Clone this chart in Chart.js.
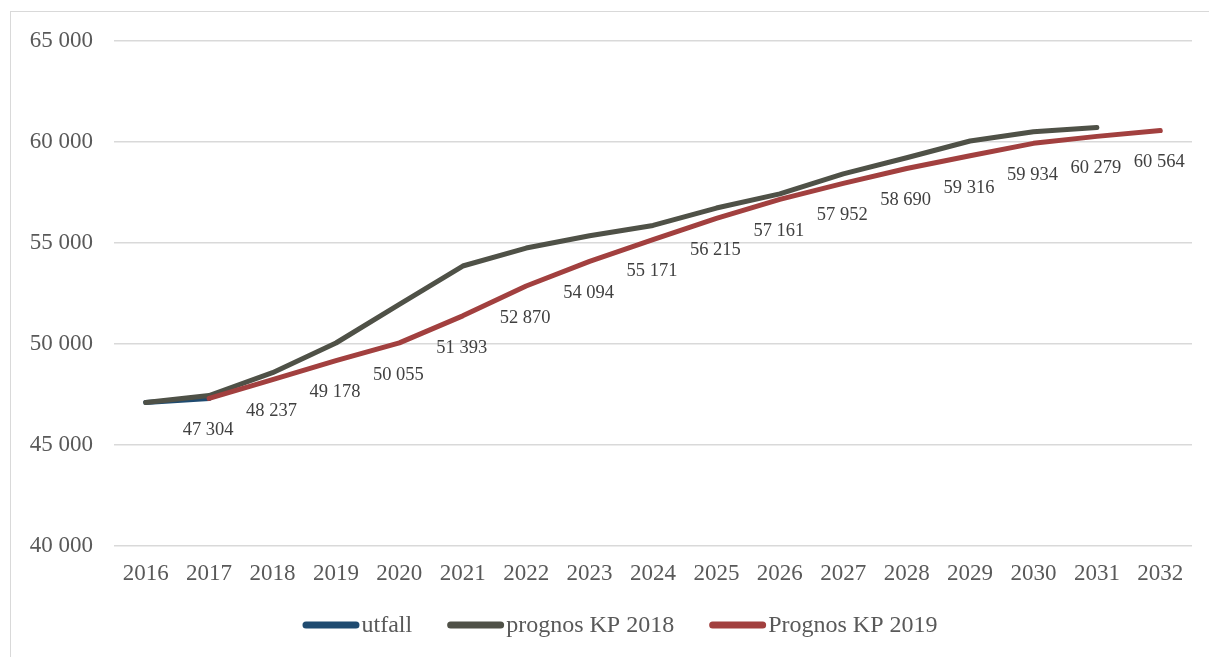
<!DOCTYPE html>
<html>
<head>
<meta charset="utf-8">
<script src="https://cdn.jsdelivr.net/npm/chart.js@4"></script>
<style>
  html, body { margin: 0; padding: 0; background: #fff; overflow: hidden; }
  #wrap { position: relative; width: 1209px; height: 657px; }
  #frame { position: absolute; left: 10px; top: 11px; width: 1220px; height: 680px; border: 1px solid #d9d9d9; box-sizing: border-box; }
  canvas { position: absolute; left: 0; top: 0; }
</style>
</head>
<body>
<div id="wrap">
  <div id="frame"></div>
  <canvas id="c" width="1209" height="657"></canvas>
</div>
<script>
const years = ['2016','2017','2018','2019','2020','2021','2022','2023','2024','2025','2026','2027','2028','2029','2030','2031','2032'];
const utfall = [47100, 47304, null, null, null, null, null, null, null, null, null, null, null, null, null, null, null];
const prognos2018 = [47100, 47450, 48580, 50050, 51960, 53860, 54750, 55360, 55870, 56730, 57430, 58420, 59220, 60050, 60510, 60720, null];
const prognos2019 = [null, 47304, 48237, 49178, 50055, 51393, 52870, 54094, 55171, 56215, 57161, 57952, 58690, 59316, 59934, 60279, 60564];
const seriesNames = ['utfall', 'prognos KP 2018', 'Prognos KP 2019'];
const seriesColors = ['#1f4b70', '#4f5147', '#a2403f'];
const yTicks = [40000, 45000, 50000, 55000, 60000, 65000];

function fmt(v) {
  return String(Math.round(v)).replace(/\B(?=(\d{3})+(?!\d))/g, ' ');
}

const serif = "'Liberation Serif', 'Times New Roman', serif";

const dataLabelPlugin = {
  id: 'redLabels',
  afterDatasetsDraw(chart) {
    const ctx = chart.ctx;
    const meta = chart.getDatasetMeta(2);
    const data = chart.data.datasets[2].data;
    ctx.save();
    ctx.font = '18.5px ' + serif;
    ctx.fillStyle = '#404040';
    ctx.textAlign = 'center';
    ctx.textBaseline = 'middle';
    meta.data.forEach((pt, i) => {
      if (data[i] == null) return;
      ctx.fillText(fmt(data[i]), pt.x - 1, pt.y + 32);
    });
    ctx.restore();
  }
};

const legendPlugin = {
  id: 'customLegend',
  afterDraw(chart) {
    const ctx = chart.ctx;
    ctx.save();
    ctx.font = '24px ' + serif;
    const lineLen = 57, gap = 2, itemGap = 35;
    const widths = seriesNames.map(n => lineLen + gap + ctx.measureText(n).width);
    const total = widths.reduce((a, b) => a + b, 0) + itemGap * (widths.length - 1);
    let x = 620 - total / 2;
    const y = 625;
    seriesNames.forEach((n, i) => {
      ctx.strokeStyle = seriesColors[i];
      ctx.lineWidth = 7;
      ctx.lineCap = 'round';
      ctx.beginPath();
      ctx.moveTo(x + 3.5, y);
      ctx.lineTo(x + lineLen - 3.5, y);
      ctx.stroke();
      ctx.fillStyle = '#595959';
      ctx.textAlign = 'left';
      ctx.textBaseline = 'middle';
      ctx.fillText(n, x + lineLen + gap, y + 1);
      x += widths[i] + itemGap;
    });
    ctx.restore();
  }
};

const common = { borderWidth: 5, pointRadius: 0, pointHoverRadius: 0, tension: 0, fill: false, borderCapStyle: 'round', borderJoinStyle: 'round', spanGaps: false };

new Chart(document.getElementById('c'), {
  type: 'line',
  data: {
    labels: years,
    datasets: [
      Object.assign({ label: seriesNames[0], data: utfall, borderColor: seriesColors[0], backgroundColor: seriesColors[0], order: 2 }, common),
      Object.assign({ label: seriesNames[1], data: prognos2018, borderColor: seriesColors[1], backgroundColor: seriesColors[1], order: 1 }, common),
      Object.assign({ label: seriesNames[2], data: prognos2019, borderColor: seriesColors[2], backgroundColor: seriesColors[2], order: 0 }, common)
    ]
  },
  options: {
    responsive: false,
    animation: false,
    layout: { padding: { left: 0, right: 17, top: 41, bottom: 0 } },
    plugins: { legend: { display: false }, tooltip: { enabled: false } },
    scales: {
      x: {
        offset: true,
        grid: { display: false, drawTicks: false },
        border: { display: false },
        ticks: { color: '#595959', font: { family: serif, size: 23 }, padding: 14, maxRotation: 0, autoSkip: false },
        afterFit(s) { s.height = 111; }
      },
      y: {
        min: 40000, max: 65000,
        afterBuildTicks(s) { s.ticks = yTicks.map(v => ({ value: v })); },
        grid: { color: '#d9d9d9', lineWidth: 1.5, drawTicks: false },
        border: { display: false },
        ticks: { color: '#595959', font: { family: serif, size: 23 }, padding: 21, callback: v => fmt(v) },
        afterFit(s) { s.width = 114; }
      }
    }
  },
  plugins: [dataLabelPlugin, legendPlugin]
});
</script>
</body>
</html>
